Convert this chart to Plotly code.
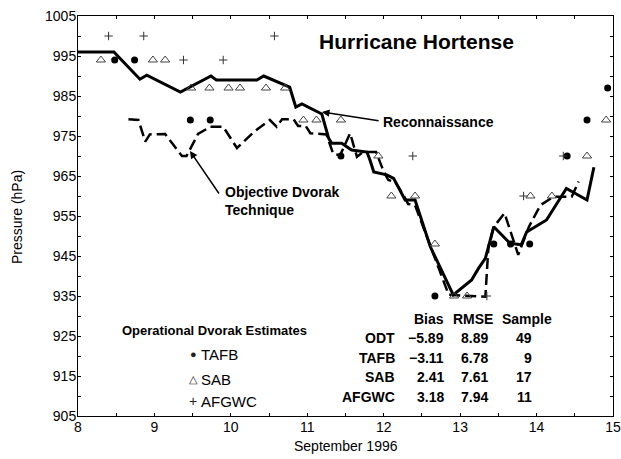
import plotly.graph_objects as go

# Reconnaissance (solid line)
recon_day = [8.0, 8.47, 8.81, 8.9, 9.34, 9.74, 9.81, 10.34, 10.43, 10.77, 10.85, 10.93, 11.19,
             11.28, 11.32, 11.45, 11.58, 11.78, 11.82, 11.87, 12.04, 12.13, 12.28, 12.41, 12.61,
             12.91, 13.15, 13.24, 13.33, 13.44, 13.65, 13.8, 13.87, 14.13, 14.39, 14.66, 14.75]
recon_p = [996, 996, 989.2, 990.2, 986, 990, 989, 989, 990, 987.2, 982.2, 983, 980.5,
           974.4, 973.2, 973.2, 971.5, 971, 969, 966, 965.3, 964.4, 959, 959, 947.3,
           935.3, 939, 941.9, 944.4, 952.3, 948.2, 947.8, 951, 954, 961.9, 959, 967.2]

# Objective Dvorak Technique (dashed line)
odt_day = [8.66, 8.79, 8.88, 8.94, 9.14, 9.36, 9.42, 9.57, 9.73, 9.9, 10.08, 10.3, 10.51, 10.6,
           10.67, 10.82, 10.88, 10.98, 11.04, 11.25, 11.34, 11.43, 11.56, 11.65, 11.73, 11.9,
           12.0, 12.06, 12.15, 12.26, 12.32, 12.41, 12.85, 13.33, 13.37, 13.44, 13.58, 13.76,
           13.9, 14.05, 14.22, 14.46, 14.55]
odt_p = [979.2, 979, 973.6, 975.4, 975.5, 970, 970, 975.5, 977.3, 977.3, 972, 976, 979, 977.3,
         979.2, 979.2, 977.5, 977.5, 975.7, 975.4, 970.5, 970.2, 975.7, 969.8, 971, 971,
         966.1, 964, 963.5, 960.2, 958, 957.7, 935.3, 934.8, 947.3, 952.3, 955.7, 945.3,
         952.3, 957.7, 959.8, 959.8, 963.6]

# Operational Dvorak estimates
tafb_day = [8.48, 8.74, 9.47, 9.73, 11.44, 12.67, 13.44, 13.66, 13.91, 14.4, 14.66, 14.93]
tafb_p = [994, 994, 979, 979, 970, 935, 948, 948, 948, 970, 979, 987]

sab_day = [8.3, 8.98, 9.14, 9.48, 9.72, 9.97, 10.12, 10.46, 10.71, 10.95, 11.12, 11.44,
           11.93, 12.1, 12.41, 12.67, 12.92, 13.09, 13.92, 14.2, 14.66, 14.91]
sab_p = [994, 994, 994, 987, 987, 987, 987, 987, 987, 979, 979, 979,
         970, 960, 960, 948, 935, 935, 960, 960, 970, 979]

afgwc_day = [8.4, 8.86, 9.38, 9.9, 10.57, 12.38, 13.35, 13.83, 14.35]
afgwc_p = [1000, 1000, 994, 994, 1000, 970, 935, 960, 970]

# Statistics table
stat_names = ["ODT", "TAFB", "SAB", "AFGWC"]
stat_bias = ["\u22125.89", "\u22123.11", "2.41", "3.18"]
stat_rmse = ["8.89", "6.78", "7.61", "7.94"]
stat_sample = ["49", "9", "17", "11"]
stat_headers = ["Bias", "RMSE", "Sample"]

x_ticks = [8, 9, 10, 11, 12, 13, 14, 15]
y_ticks = [905, 915, 925, 935, 945, 955, 965, 975, 985, 995, 1005]

FONT = "Liberation Sans, Arial, Helvetica, sans-serif"

fig = go.Figure()
fig.add_trace(go.Scatter(x=recon_day, y=recon_p, mode="lines",
                         line=dict(color="black", width=3), showlegend=False))
fig.add_trace(go.Scatter(x=odt_day, y=odt_p, mode="lines",
                         line=dict(color="black", width=2.5, dash="11px,5px"), showlegend=False))
fig.add_trace(go.Scatter(x=tafb_day, y=tafb_p, mode="markers",
                         marker=dict(symbol="circle", size=7, color="black"), showlegend=False,
                         cliponaxis=False))
fig.add_trace(go.Scatter(x=sab_day, y=sab_p, mode="markers",
                         marker=dict(symbol="triangle-up-open", size=8, color="#444",
                                     line=dict(width=1)), showlegend=False, cliponaxis=False))
fig.add_trace(go.Scatter(x=afgwc_day, y=afgwc_p, mode="markers",
                         marker=dict(symbol="cross-thin-open", size=6, color="#333",
                                     line=dict(width=1, color="#333")), showlegend=False))

ann = []
ann.append(dict(x=12.435, y=998.75, text="<b>Hurricane Hortense</b>", showarrow=False,
                xanchor="center", yanchor="middle", font=dict(size=21)))
ann.append(dict(x=11.965, y=978.5, text="<b>Reconnaissance</b>", showarrow=False,
                xanchor="left", yanchor="middle", font=dict(size=14)))
ann.append(dict(x=11.192, y=981.0, ax=11.953, ay=978.75, axref="x", ayref="y", text="",
                showarrow=True, arrowhead=2, arrowsize=1, arrowwidth=1.5, arrowcolor="black"))
ann.append(dict(x=9.893, y=958.75, text="<b>Objective Dvorak<br>Technique</b>", showarrow=False,
                xanchor="left", yanchor="middle", align="left", font=dict(size=14)))
ann.append(dict(x=9.465, y=971.25, ax=9.858, ay=960.25, axref="x", ayref="y", text="",
                showarrow=True, arrowhead=2, arrowsize=1, arrowwidth=1.5, arrowcolor="black"))
ann.append(dict(x=8.55, y=926.5, text="<b>Operational Dvorak Estimates</b>", showarrow=False,
                xanchor="left", yanchor="middle", font=dict(size=13)))
leg_sym = ["\u25cf", "\u25b3", "+"]
leg_txt = ["TAFB", "SAB", "AFGWC"]
leg_y = [920.5, 914.25, 908.75]
leg_sz = [11, 11, 14]
for s, t, yy, sz in zip(leg_sym, leg_txt, leg_y, leg_sz):
    ann.append(dict(x=9.505, y=yy, text=s, showarrow=False, xanchor="center", yanchor="middle",
                    font=dict(size=sz, color="#222")))
    ann.append(dict(x=9.583, y=yy, text=t, showarrow=False, xanchor="left", yanchor="middle",
                    font=dict(size=15)))

hdr_x = [12.592, 13.164, 13.871]
for h, hx in zip(stat_headers, hdr_x):
    ann.append(dict(x=hx, y=929.2, text="<b>%s</b>" % h, showarrow=False,
                    xanchor="center", yanchor="middle", font=dict(size=14)))
row_y = [924.4, 919.4, 914.7, 909.8]
col_x = [12.17, 12.81, 13.39, 13.96]
for i in range(4):
    vals = [stat_names[i], stat_bias[i], stat_rmse[i], stat_sample[i]]
    for v, cx in zip(vals, col_x):
        ann.append(dict(x=cx, y=row_y[i], text="<b>%s</b>" % v, showarrow=False,
                        xanchor="right", yanchor="middle", font=dict(size=14)))

# axis titles
ann.append(dict(x=0.5, y=-0.074, xref="paper", yref="paper", text="September 1996",
                showarrow=False, xanchor="center", yanchor="middle", font=dict(size=14)))
ann.append(dict(x=-0.114, y=0.4975, xref="paper", yref="paper", text="Pressure (hPa)",
                textangle=-90, showarrow=False, xanchor="center", yanchor="middle",
                font=dict(size=14)))

fig.update_layout(
    template="none",
    width=621, height=459,
    margin=dict(l=78, r=8, t=16, b=43),
    plot_bgcolor="white", paper_bgcolor="white",
    font=dict(family=FONT, size=14, color="black"),
    annotations=ann,
    showlegend=False,
)
fig.update_xaxes(range=[8, 15], tickvals=x_ticks, ticktext=[str(v) for v in x_ticks],
                 ticks="inside", ticklen=3, tickcolor="black", tickwidth=1,
                 minor=dict(dtick=0.5, tick0=8, ticks="inside", ticklen=3, tickcolor="black"),
                 showline=True, linecolor="black", linewidth=1, mirror="ticks",
                 showgrid=False, zeroline=False, automargin=False,
                 ticklabeloverflow="allow", ticklabelstandoff=-2,
                 tickfont=dict(size=14, color="black"))
fig.update_yaxes(range=[905, 1005], tickvals=y_ticks, ticktext=[str(v) for v in y_ticks],
                 ticks="inside", ticklen=3, tickcolor="black", tickwidth=1,
                 minor=dict(dtick=5, tick0=905, ticks="inside", ticklen=3, tickcolor="black"),
                 showline=True, linecolor="black", linewidth=1, mirror="ticks",
                 showgrid=False, zeroline=False, automargin=False,
                 ticklabelstandoff=-2, ticklabeloverflow="allow",
                 tickfont=dict(size=14, color="black"))

# remove the default page margin so the figure sits at the window's top-left corner
fig.write_html("out.html",
               config={"displayModeBar": False},
               post_script="document.body.style.margin='0';document.body.style.overflow='hidden';")
